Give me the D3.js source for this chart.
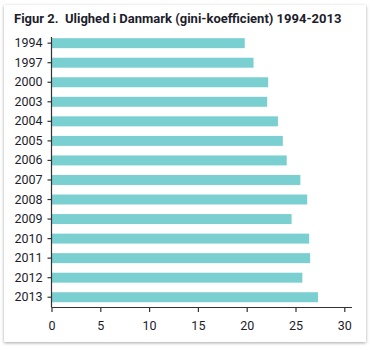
<!DOCTYPE html>
<html><head><meta charset="utf-8">
<script src="https://cdn.jsdelivr.net/npm/d3@7"></script>
<style>
html,body{margin:0;padding:0;background:#fff;}
#card{position:absolute;left:4px;top:5px;width:362px;height:337px;background:#fff;box-shadow:0 1px 3px rgba(0,0,0,0.35);}
svg{position:absolute;left:0;top:0;}
</style></head>
<body>
<div id="card"></div>
<script>
const years = ["1994","1997","2000","2003","2004","2005","2006","2007","2008","2009","2010","2011","2012","2013"];
const gini = [19.8,20.7,22.2,22.1,23.2,23.7,24.1,25.5,26.2,24.6,26.4,26.5,25.7,27.3];
const xTicks = [0,5,10,15,20,25,30];
const title = "Figur 2.  Ulighed i Danmark (gini-koefficient) 1994-2013";

const svg = d3.select("body").append("svg").attr("width",374).attr("height",350);
const font = "Roboto, 'DejaVu Sans', sans-serif";
const ink = "#1d1d2b";

svg.append("text").attr("x",14).attr("y",23).attr("font-family",font)
  .attr("font-weight","bold").attr("font-size",13).attr("fill",ink)
  .attr("xml:space","preserve").text(title);

const x = d3.scaleLinear().domain([0,30]).range([51.5,344.3]);
const y = d3.scaleBand().domain(years).range([33.4,307]).paddingInner(0.49).paddingOuter(0.245);

const g = svg.append("g");
g.selectAll("rect").data(years).join("rect")
  .attr("x",x(0)).attr("y",d=>y(d))
  .attr("width",(d,i)=>x(gini[i])-x(0)).attr("height",y.bandwidth())
  .attr("fill","#7acfd1");

const xa = svg.append("g").attr("transform","translate(0,307)")
  .call(d3.axisBottom(x).tickValues(xTicks).tickSize(5).tickPadding(9).tickSizeOuter(0));
xa.select(".domain").attr("d","M51.5,0.5H352");
const ya = svg.append("g").attr("transform","translate(51.5,0)")
  .call(d3.axisLeft(y).tickSize(4).tickPadding(5).tickSizeOuter(0));
ya.select(".domain").attr("d","M0,37V307");
[xa,ya].forEach(a=>{
  a.selectAll("path,line").attr("stroke","#333").attr("stroke-width",1.2);
  a.selectAll("text").attr("font-family",font).attr("font-size",12.5).attr("fill",ink);
});
</script>
</body></html>
